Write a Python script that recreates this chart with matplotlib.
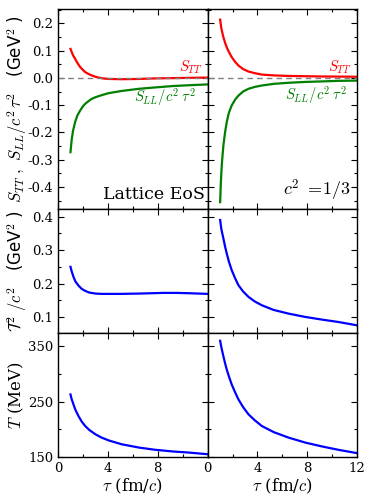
import matplotlib
matplotlib.use("Agg")
import matplotlib.pyplot as plt
from matplotlib.ticker import MultipleLocator, FixedLocator

plt.rcParams['font.family'] = 'DejaVu Serif'
plt.rcParams['mathtext.fontset'] = 'cm'
plt.rcParams['axes.unicode_minus'] = False

# ---- data ----
tau_stt_lat = [1.0, 1.2, 1.37, 1.55, 1.77, 2.0, 2.18, 2.45, 2.7, 3.0, 3.25, 3.6, 4.06, 5.1, 6.5, 7.8, 9.2, 10.5, 12.0]
stt_lat = [0.106, 0.083, 0.070, 0.055, 0.040, 0.029, 0.021, 0.014, 0.009, 0.004, 0.001, -0.002, -0.004, -0.005, -0.004, -0.002, -0.001, 0.0, 0.001]
tau_sll_lat = [1.0, 1.1, 1.2, 1.37, 1.55, 1.77, 2.0, 2.18, 2.45, 2.7, 3.0, 3.25, 3.6, 4.06, 5.1, 6.5, 7.8, 9.2, 10.5, 12.0]
sll_lat = [-0.272, -0.225, -0.195, -0.162, -0.138, -0.120, -0.104, -0.095, -0.085, -0.077, -0.071, -0.067, -0.062, -0.056, -0.048, -0.040, -0.035, -0.030, -0.027, -0.024]

tau_stt_c = [1.0, 1.1, 1.26, 1.4, 1.53, 1.7, 1.93, 2.2, 2.47, 2.85, 3.28, 3.8, 4.35, 5.3, 6.5, 7.8, 9.2, 10.5, 12.0]
stt_c = [0.213, 0.180, 0.149, 0.128, 0.112, 0.095, 0.076, 0.059, 0.045, 0.032, 0.023, 0.017, 0.012, 0.009, 0.007, 0.006, 0.005, 0.0045, 0.004]
tau_sll_c = [1.0, 1.06, 1.13, 1.2, 1.26, 1.4, 1.53, 1.7, 1.93, 2.2, 2.47, 2.85, 3.28, 3.8, 4.35, 5.3, 6.5, 7.8, 9.2, 10.5, 12.0]
sll_c = [-0.455, -0.38, -0.32, -0.28, -0.248, -0.198, -0.162, -0.128, -0.101, -0.080, -0.065, -0.050, -0.040, -0.033, -0.028, -0.022, -0.018, -0.015, -0.013, -0.011, -0.010]

tau_t2_lat = [1.0, 1.1, 1.24, 1.4, 1.64, 1.9, 2.18, 2.5, 3.0, 3.5, 4.06, 5.0, 6.5, 7.5, 8.4, 9.5, 10.5, 12.0]
t2_lat = [0.250, 0.236, 0.220, 0.206, 0.194, 0.184, 0.178, 0.173, 0.170, 0.169, 0.169, 0.169, 0.170, 0.171, 0.172, 0.172, 0.171, 0.169]
tau_t2_c = [1.0, 1.1, 1.26, 1.4, 1.53, 1.7, 1.93, 2.2, 2.47, 2.85, 3.28, 3.8, 4.35, 5.3, 6.5, 7.85, 9.2, 10.5, 12.0]
t2_c = [0.390, 0.362, 0.335, 0.310, 0.290, 0.266, 0.240, 0.216, 0.195, 0.176, 0.160, 0.146, 0.135, 0.121, 0.110, 0.100, 0.092, 0.085, 0.075]

tau_T_lat = [1.0, 1.1, 1.24, 1.4, 1.64, 1.9, 2.18, 2.5, 3.0, 3.5, 4.06, 5.1, 6.5, 7.8, 9.2, 10.5, 12.0]
T_lat = [263, 254, 245, 235, 224, 214, 206, 199, 191, 185, 180, 173, 167, 163, 160, 158, 155]
tau_T_c = [1.0, 1.1, 1.26, 1.4, 1.53, 1.7, 1.93, 2.2, 2.47, 2.85, 3.28, 3.8, 4.35, 5.3, 6.5, 7.85, 9.2, 10.5, 12.0]
T_c = [360, 348, 332, 319, 308, 296, 281, 267, 254, 240, 227, 216, 206, 195, 185, 176, 169, 163, 157]

xticks = [0, 4, 8, 12]

fig = plt.figure(figsize=(3.74, 4.98), dpi=100)
W, H = 374.0, 498.0
xl, xm, xr = 58 / W, 207.7 / W, 357 / W
ybounds = [9, 209, 333, 457]

axes = []
for r in range(3):
    row = []
    for c in range(2):
        x0 = xl if c == 0 else xm
        w = (xm - xl) if c == 0 else (xr - xm)
        y0 = 1 - ybounds[r + 1] / H
        h = (ybounds[r + 1] - ybounds[r]) / H
        ax = fig.add_axes([x0, y0, w, h])
        row.append(ax)
    axes.append(row)

red, green, blue = '#ff0000', '#007f00', '#0000ff'
lw = 1.6

for r in range(3):
    for c in range(2):
        ax = axes[r][c]
        ax.set_xlim(0, 12)
        ax.xaxis.set_major_locator(FixedLocator(xticks))
        ax.xaxis.set_minor_locator(MultipleLocator(2))
        ax.tick_params(which='both', direction='in', top=True, right=True, labelsize=9.5)
        ax.tick_params(which='major', length=4, width=0.8)
        ax.tick_params(which='minor', length=2.5, width=0.8)
        for s in ax.spines.values():
            s.set_linewidth(1.0)
        if r < 2:
            ax.set_xticklabels([])
        if c == 1:
            ax.set_yticklabels([])

# top row
ax = axes[0][0]
ax.plot(tau_stt_lat, stt_lat, color=red, lw=lw)
ax.plot(tau_sll_lat, sll_lat, color=green, lw=lw)
ax = axes[0][1]
ax.plot(tau_stt_c, stt_c, color=red, lw=lw)
ax.plot(tau_sll_c, sll_c, color=green, lw=lw)
for ax in axes[0]:
    ax.axhline(0, color='gray', ls='--', lw=1.0, dashes=(4, 3))
    ax.set_ylim(-0.48, 0.252)
    ax.yaxis.set_major_locator(MultipleLocator(0.1))
    ax.yaxis.set_minor_locator(MultipleLocator(0.05))
axes[0][0].set_yticks([-0.4, -0.3, -0.2, -0.1, 0.0, 0.1, 0.2])
axes[0][0].set_yticklabels(['-0.4', '-0.3', '-0.2', '-0.1', '0.0', '0.1', '0.2'])
axes[0][1].set_yticks([-0.4, -0.3, -0.2, -0.1, 0.0, 0.1, 0.2])
axes[0][1].set_yticklabels([])

axes[0][0].text(0.97, 0.71, r'$S_{TT}$', color=red, fontsize=10.5, ha='right', va='center', transform=axes[0][0].transAxes)
axes[0][0].text(0.925, 0.56, r'$S_{LL}/c^2\;\tau^2$', color=green, fontsize=10.5, ha='right', va='center', transform=axes[0][0].transAxes)
axes[0][1].text(0.965, 0.71, r'$S_{TT}$', color=red, fontsize=10.5, ha='right', va='center', transform=axes[0][1].transAxes)
axes[0][1].text(0.93, 0.57, r'$S_{LL}/c^2\;\tau^2$', color=green, fontsize=10.5, ha='right', va='center', transform=axes[0][1].transAxes)
axes[0][0].text(0.98, 0.03, 'Lattice EoS', fontsize=12.5, ha='right', va='bottom', transform=axes[0][0].transAxes)
axes[0][1].text(0.96, 0.03, r'$c^2\ =\!1/3$', fontsize=13, ha='right', va='bottom', transform=axes[0][1].transAxes)

# middle row
axes[1][0].plot(tau_t2_lat, t2_lat, color=blue, lw=lw)
axes[1][1].plot(tau_t2_c, t2_c, color=blue, lw=lw)
for ax in axes[1]:
    ax.set_ylim(0.052, 0.423)
    ax.set_yticks([0.1, 0.2, 0.3, 0.4])
    ax.yaxis.set_minor_locator(MultipleLocator(0.05))
axes[1][0].set_yticklabels(['0.1', '0.2', '0.3', '0.4'])
axes[1][1].set_yticklabels([])

# bottom row
axes[2][0].plot(tau_T_lat, T_lat, color=blue, lw=lw)
axes[2][1].plot(tau_T_c, T_c, color=blue, lw=lw)
for ax in axes[2]:
    ax.set_ylim(150, 374)
    ax.set_yticks([150, 250, 350])
    ax.yaxis.set_minor_locator(MultipleLocator(50))
axes[2][0].set_yticklabels(['150', '250', '350'])
axes[2][1].set_yticklabels([])
axes[2][0].set_xticklabels(['0', '4', '8', ''])
axes[2][1].set_xticklabels(['0', '4', '8', '12'])
for ax in axes[2]:
    ax.set_xlabel(r'$\tau$ (fm/$c$)', fontsize=12, labelpad=1)

# y labels
fig.text(0.045, 1 - 109 / H, r'$S_{TT}\ ,\ S_{LL}/c^2\,\tau^2$   (GeV$^2$ )', rotation=90,
         fontsize=12, ha='center', va='center', family='DejaVu Sans')
fig.text(0.045, 1 - 271 / H, r'$\mathcal{T}^2\ /c^2$   (GeV$^2$ )', rotation=90,
         fontsize=12, ha='center', va='center', family='DejaVu Sans')
fig.text(0.045, 1 - 395 / H, r'$T$ (MeV)', rotation=90,
         fontsize=12, ha='center', va='center')

fig.savefig('out.png', dpi=100)
